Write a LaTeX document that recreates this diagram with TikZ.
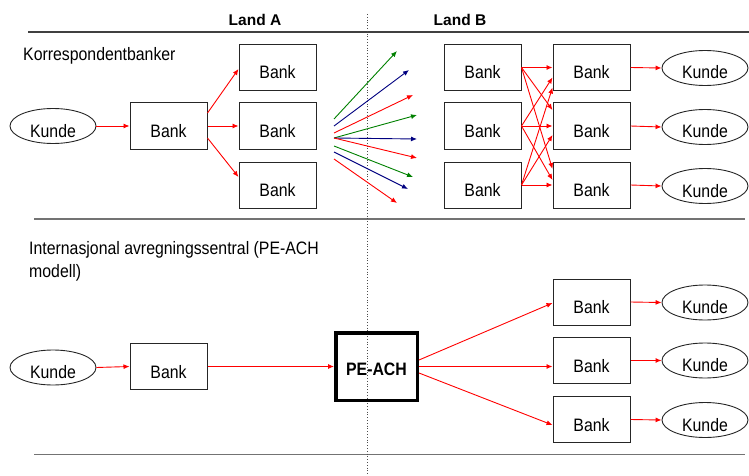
\documentclass[tikz,border=0pt]{standalone}
\usepackage{fontspec}
\setmainfont{Liberation Sans}[FakeStretch=0.88]
\newfontfamily\landfont{Liberation Sans}
\usetikzlibrary{arrows.meta,shapes.geometric,calc}
\definecolor{dgreen}{RGB}{0,128,0}
\definecolor{navyc}{RGB}{0,0,128}
\begin{document}
\begin{tikzpicture}[x=1pt,y=-1pt,
  every node/.style={font=\fontsize{18}{23}\selectfont},
  box/.style={draw=black!85,line width=1pt,rectangle,minimum width=77pt,minimum height=46pt,inner sep=0pt,text height=23pt,text depth=0pt},
  kunde/.style={draw=black!85,line width=0.9pt,ellipse,minimum width=86pt,minimum height=35pt,inner sep=0pt,text height=22pt,text depth=0pt},
  arr/.style={red,line width=0.9pt,-{Latex[length=6pt,width=5pt]}},
  fan/.style={line width=0.9pt,-{Latex[length=6pt,width=5pt]}},
  landlbl/.style={font=\landfont\bfseries\fontsize{15.5}{18}\selectfont},
  sep/.style={draw=black!55,line width=1.3pt}
]
\useasboundingbox (0,0) rectangle (749,476);

% separators
\coordinate (t1) at (28,32);  \coordinate (t2) at (749,32);
\coordinate (m1) at (34,219); \coordinate (m2) at (745,219);
\coordinate (b1) at (34,454.5); \coordinate (b2) at (745,454.5);
\coordinate (v1) at (367,14); \coordinate (v2) at (367,476);
\draw[draw=black!75,line width=1.6pt] (t1) -- (t2);
\draw[sep] (m1) -- (m2);
\draw[sep] (b1) -- (b2);
\draw[black!70,line width=0.8pt,dotted] (v1) -- (v2);

% titles
\node[landlbl] (landA) at (255,20) {Land A};
\node[landlbl] (landB) at (460,20) {Land B};
\node[anchor=base west,inner sep=0pt] (korr) at (23,61) {Korrespondentbanker};
\node[anchor=north west,inner sep=0pt,align=left] (inter) at (29,241) {Internasjonal avregningssentral (PE-ACH\\modell)};

% ---- top section: Land A
\node[kunde] (K0) at (53,126) {Kunde};
\node[box] (A0) at (168.5,126) {Bank};
\node[box] (A1) at (277.5,67.5) {Bank};
\node[box] (A2) at (277.5,126) {Bank};
\node[box] (A3) at (277.5,185) {Bank};
\draw[arr] (K0.east) -- (A0.west);
\draw[arr] ([yshift=13pt]A0.east) -- ([yshift=-1.5pt]A1.west);
\draw[arr] (A0.east) -- (A2.west);
\draw[arr] ([yshift=-12pt]A0.east) -- ([yshift=8pt]A3.west);

% fan
\foreach \i/\sy/\ex/\ey/\c in {1/119/397/51/dgreen,2/126/409/70/navyc,3/133/413/95/red,
  4/138/417/115/dgreen,5/138/417/139/navyc,6/138/417/158/red,
  7/146/413/177/dgreen,8/152/408/189/navyc,9/159/397/203/red}{
  \coordinate (s\i) at (334,\sy);
  \coordinate (e\i) at (\ex,\ey);
  \draw[fan,\c] (s\i) -- (e\i);
}

% ---- top section: Land B
\node[box] (B1) at (482.5,67.5) {Bank};
\node[box] (B2) at (482.5,126) {Bank};
\node[box] (B3) at (482.5,185) {Bank};
\node[box] (C1) at (591.5,67.5) {Bank};
\node[box] (C2) at (591.5,126) {Bank};
\node[box] (C3) at (591.5,185) {Bank};
\node[kunde] (K1) at (705,68) {Kunde};
\node[kunde] (K2) at (705,127) {Kunde};
\node[kunde] (K3) at (705,186) {Kunde};
\draw[arr] (C1.east) -- (K1.west);
\draw[arr] (C2.east) -- (K2.west);
\draw[arr] (C3.east) -- (K3.west);

\foreach \s/\t/\ys in {B1/C1/0,B2/C1/-10,B3/C1/-20,
                       B1/C2/16,B2/C2/0,B3/C2/-9,
                       B1/C3/16,B2/C3/5,B3/C3/0}{
  \draw[arr] (\s.east) -- ([yshift=\ys pt]\t.west);
}

% ---- bottom section
\node[kunde] (K4) at (53,367.5) {Kunde};
\node[box] (D0) at (168.5,366.5) {Bank};
\node[draw=black,line width=3.5pt,rectangle,minimum width=81.5pt,minimum height=67.5pt,inner sep=0pt,
      text height=17pt,text depth=0pt,font=\bfseries\fontsize{18}{23}\selectfont] (P) at (376.5,366.5) {PE-ACH};
\node[box] (E1) at (591.5,302) {Bank};
\node[box] (E2) at (591.5,360.5) {Bank};
\node[box] (E3) at (591.5,419.5) {Bank};
\node[kunde] (L1) at (705,302.5) {Kunde};
\node[kunde] (L2) at (705,360.5) {Kunde};
\node[kunde] (L3) at (705,420) {Kunde};
\draw[arr] (K4.east) -- (D0.west);
\draw[arr] (D0.east) -- (P.west);
\draw[arr] ([yshift=6.5pt]P.east) -- ([yshift=-1pt]E1.west);
\draw[arr] (P.east) -- ([yshift=-6pt]E2.west);
\draw[arr] ([yshift=-6.5pt]P.east) -- ([yshift=-5.5pt]E3.west);
\draw[arr] (E1.east) -- (L1.west);
\draw[arr] (E2.east) -- (L2.west);
\draw[arr] (E3.east) -- (L3.west);
\end{tikzpicture}
\end{document}
